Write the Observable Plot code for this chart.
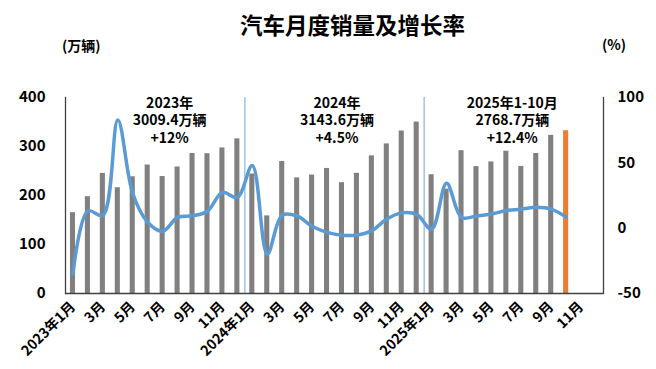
<!DOCTYPE html>
<html><head><meta charset="utf-8">
<script src="https://cdn.jsdelivr.net/npm/d3@7"></script>
<script src="https://cdn.jsdelivr.net/npm/@observablehq/plot@0.6"></script>
<style>
body{margin:0;background:#fff;font-family:"Noto Sans CJK SC","Noto Sans",sans-serif;}
#wrap{position:relative;width:656px;height:369px;overflow:hidden;background:#fff}
#chart{position:absolute;left:0;top:0}
.t{position:absolute;font-weight:bold;color:#000;white-space:nowrap;line-height:1.4}
</style></head><body>
<div id="wrap">
<div id="chart"></div>
<div class="t" style="left:240px;top:9px;font-size:22.5px;">汽车月度销量及增长率</div>
<div class="t" style="left:62px;top:36px;font-size:14px;">(万辆)</div>
<div class="t" style="left:602px;top:35px;font-size:14px;">(%)</div>
</div>
<script>
const years = [2023, 2024, 2025];
const monthNums = [1,2,3,4,5,6,7,8,9,10,11,12];
const sales2023 = [164.9,197.6,245.1,215.9,238.2,262.2,238.7,258.2,285.8,285.3,297.0,315.6];
const sales2024 = [243.9,158.4,269.4,235.9,241.7,255.2,226.2,245.3,280.9,305.3,331.6,349.9];
const sales2025 = [242.3,212.9,291.5,259.0,268.6,290.4,259.3,285.7,322.7,332.2];
const growth2023 = [-35.0,13.2,9.7,82.7,26.5,4.5,-2.3,8.2,9.5,13.0,27.4,23.5];
const growth2024 = [47.9,-19.9,9.9,9.3,1.5,-3.2,-5.4,-5.2,-1.9,7.0,11.7,10.5];
const growth2025 = [-0.8,34.4,8.2,9.3,10.8,13.5,14.5,16.0,14.6,8.5];
const leftTicks = [0,100,200,300,400];
const rightTicks = [-50,0,50,100];
const separators = ["2024-01","2025-01"];
const highlightKey = "2025-10";
const annotations = [
  {key:"2023-07", text:"2023年\n3009.4万辆\n+12%"},
  {key:"2024-07", text:"2024年\n3143.6万辆\n+4.5%"},
  {key:"2025-07", text:"2025年1-10月\n2768.7万辆\n+12.4%"}
];
const annotationShift = [7, -5, -9];

const pad = m => String(m).padStart(2,"0");
const keys = [];
years.forEach(y => monthNums.forEach(m => keys.push(`${y}-${pad(m)}`)));
const salesByYear = [sales2023, sales2024, sales2025];
const growthByYear = [growth2023, growth2024, growth2025];
const rows = [];
years.forEach((y,i) => salesByYear[i].forEach((s,j) => rows.push({key:`${y}-${pad(j+1)}`, sales:s, growth:growthByYear[i][j]})));

// right axis (-50..100) mapped onto left axis (0..400)
const toLeft = g => (g + 50) * 400 / 150;
const fromLeft = v => Math.round(v * 150 / 400 - 50);

const labelFor = k => {
  const [y, m] = k.split("-").map(Number);
  return m === 1 ? `${y}年${m}月` : `${m}月`;
};
const xTicks = keys.filter(k => Number(k.split("-")[1]) % 2 === 1);
const step = 538 / 36;

const font = '"Noto Sans CJK SC","Noto Sans",sans-serif';
const plot = Plot.plot({
  width: 656, height: 369,
  marginLeft: 65, marginRight: 53, marginTop: 97, marginBottom: 76,
  style: {fontFamily: font, fontWeight: "bold", color: "#000", background: "transparent", overflow: "visible"},
  x: {type: "band", domain: keys, paddingInner: 0.66, paddingOuter: 0.33, label: null},
  y: {domain: [0, 400], label: null},
  marks: [
    Plot.barY(rows.filter(d => d.key !== highlightKey), {x: "key", y: "sales", fill: "#808080"}),
    Plot.barY(rows.filter(d => d.key === highlightKey), {x: "key", y: "sales", fill: "#ED7D31"}),
    Plot.ruleX(separators, {x: d => d, dx: -step/2, stroke: "#9DC3E6", strokeWidth: 1.5}),
    Plot.line(rows, {x: "key", y: d => toLeft(d.growth), stroke: "#5B9BD5", strokeWidth: 3.5, curve: "catmull-rom"}),
    Plot.ruleY([0], {stroke: "#404040", strokeWidth: 1.3}),
    Plot.frame({anchor: "left", stroke: "#404040", strokeWidth: 1.3}),
    Plot.frame({anchor: "right", stroke: "#404040", strokeWidth: 1.3}),
    Plot.axisX({ticks: xTicks, tickFormat: labelFor, tickRotate: -45, tickSize: 0, tickPadding: 11, fontSize: 14, fontWeight: "bold", label: null}),
    Plot.axisY({anchor: "left", ticks: leftTicks, tickSize: 0, tickPadding: 20, fontSize: 15, fontWeight: "bold", label: null}),
    Plot.axisY({anchor: "right", ticks: rightTicks.map(toLeft), tickFormat: fromLeft, tickSize: 0, tickPadding: 14, fontSize: 15, fontWeight: "bold", label: null}),
    ...annotations.map((a, i) => Plot.text([a], {x: "key", dx: annotationShift[i], text: "text", frameAnchor: "top", lineAnchor: "top", dy: -2, fontSize: 14, fontWeight: "bold", lineHeight: 1.25, fill: "#000"}))
  ]
});
document.getElementById("chart").appendChild(plot);
</script>
</body></html>
